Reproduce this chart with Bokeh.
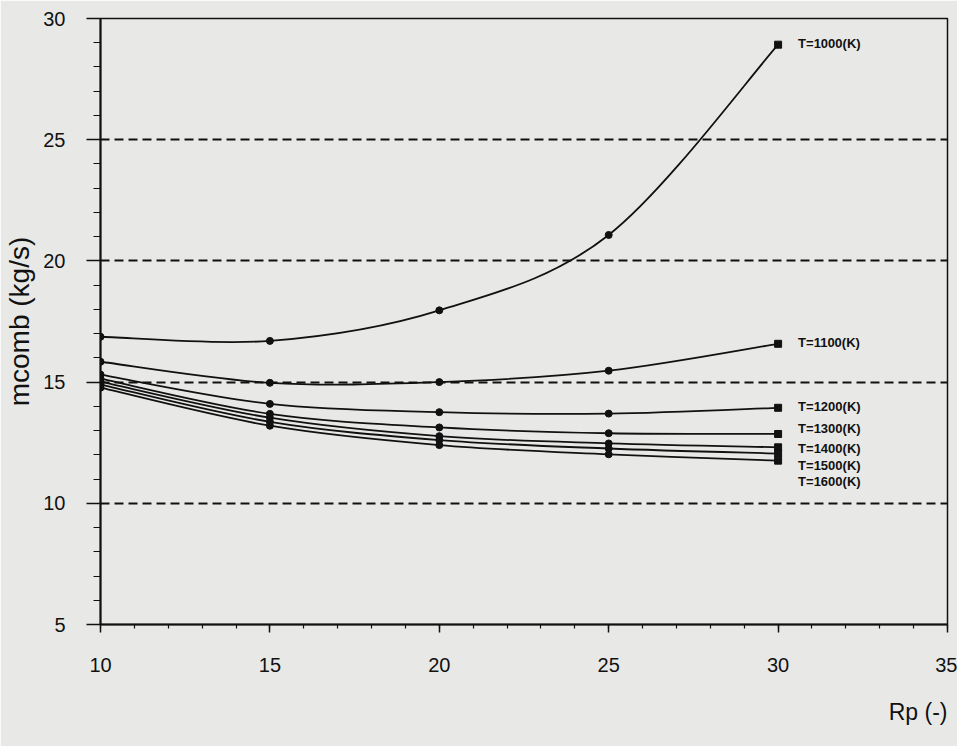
from bokeh.plotting import figure
from bokeh.models import Range1d, SingleIntervalTicker, FixedTicker, Label, Title
from bokeh.embed import file_html
from bokeh.resources import INLINE

# ---- data ----
rp = [10, 15, 20, 25, 30]
series_names = ["T=1000(K)", "T=1100(K)", "T=1200(K)", "T=1300(K)",
                "T=1400(K)", "T=1500(K)", "T=1600(K)"]
t1000 = [16.87, 16.70, 17.96, 21.07, 28.92]
t1100 = [15.84, 14.97, 15.00, 15.47, 16.58]
t1200 = [15.31, 14.10, 13.76, 13.70, 13.94]
t1300 = [15.14, 13.69, 13.13, 12.89, 12.86]
t1400 = [15.02, 13.53, 12.77, 12.47, 12.31]
t1500 = [14.90, 13.36, 12.61, 12.26, 12.05]
t1600 = [14.77, 13.20, 12.40, 12.02, 11.76]
series_values = [t1000, t1100, t1200, t1300, t1400, t1500, t1600]
# vertical placement of the end labels (spread so they do not overlap)
label_y = [28.98, 16.64, 14.00, 13.10, 12.28, 11.58, 10.88]
grid_ticks = [10, 15, 20, 25]

BG = "#e8e9e7"
INK = "#111111"
FONT = "Liberation Sans"

W, H = 957, 746
MB_L, MB_R, MB_T, MB_B = 100, 10, 18, 122
X0, X1, Y0, Y1 = 10, 35, 5, 30

p = figure(width=W, height=H, x_range=Range1d(X0, X1), y_range=Range1d(Y0, Y1),
           output_backend="svg", toolbar_location=None, title=None,
           min_border_left=MB_L, min_border_right=MB_R,
           min_border_top=MB_T, min_border_bottom=MB_B,
           background_fill_color=BG, border_fill_color=BG)

p.outline_line_color = INK
p.outline_line_width = 1.5

# axes
for ax in (p.xaxis[0], p.yaxis[0]):
    ax.ticker = SingleIntervalTicker(interval=5, num_minor_ticks=5)
    ax.axis_line_color = INK
    ax.axis_line_width = 2
    ax.major_tick_line_color = INK
    ax.minor_tick_line_color = INK
    ax.major_tick_line_width = 1.5
    ax.minor_tick_line_width = 1.2
    ax.major_tick_in = 0
    ax.minor_tick_in = 0
    ax.major_label_text_font = FONT
    ax.major_label_text_font_size = "20px"
    ax.major_label_text_color = INK

p.xaxis.major_tick_out = 8
p.xaxis.minor_tick_out = 4
p.xaxis.major_label_standoff = 25

p.yaxis.major_tick_out = 14
p.yaxis.minor_tick_out = 7
p.yaxis.major_label_standoff = 21
p.yaxis.axis_label = "mcomb (kg/s)"
p.yaxis.axis_label_text_font = FONT
p.yaxis.axis_label_text_font_size = "28px"
p.yaxis.axis_label_text_font_style = "normal"
p.yaxis.axis_label_text_color = INK
p.yaxis.axis_label_standoff = 5

# x-axis title at the right end, below the tick labels
p.add_layout(Title(text="Rp (-)", align="right", vertical_align="bottom",
                   text_font=FONT, text_font_size="23px",
                   text_font_style="normal", text_color=INK, standoff=44),
             "below")

# grid: dashed horizontal lines only
p.xgrid.visible = False
p.ygrid.ticker = FixedTicker(ticks=grid_ticks)
p.ygrid.grid_line_color = INK
p.ygrid.grid_line_width = 2
p.ygrid.grid_line_dash = "9 5"


def catmull_rom(xs, ys):
    n = len(xs)
    out = dict(x0=[], y0=[], x1=[], y1=[], cx0=[], cy0=[], cx1=[], cy1=[])
    for i in range(n - 1):
        a = i - 1 if i > 0 else i
        d = i + 2 if i + 2 < n else i + 1
        out["x0"].append(xs[i]); out["y0"].append(ys[i])
        out["x1"].append(xs[i + 1]); out["y1"].append(ys[i + 1])
        out["cx0"].append(xs[i] + (xs[i + 1] - xs[a]) / 6)
        out["cy0"].append(ys[i] + (ys[i + 1] - ys[a]) / 6)
        out["cx1"].append(xs[i + 1] - (xs[d] - xs[i]) / 6)
        out["cy1"].append(ys[i + 1] - (ys[d] - ys[i]) / 6)
    return out


for name, vals, ly in zip(series_names, series_values, label_y):
    seg = catmull_rom(rp, vals)
    p.bezier(x0=seg["x0"], y0=seg["y0"], x1=seg["x1"], y1=seg["y1"],
             cx0=seg["cx0"], cy0=seg["cy0"], cx1=seg["cx1"], cy1=seg["cy1"],
             line_color=INK, line_width=1.8)
    p.scatter(rp[:-1], vals[:-1], marker="circle", size=7,
              fill_color=INK, line_color=INK)
    p.scatter(rp[-1:], vals[-1:], marker="square", size=7,
              fill_color=INK, line_color=INK)
    p.add_layout(Label(x=rp[-1], y=ly, x_offset=20, text=name,
                       text_font=FONT, text_font_size="13px",
                       text_font_style="bold", text_color=INK,
                       text_align="left", text_baseline="middle"))

open("out.html", "w").write(file_html(p, INLINE))
